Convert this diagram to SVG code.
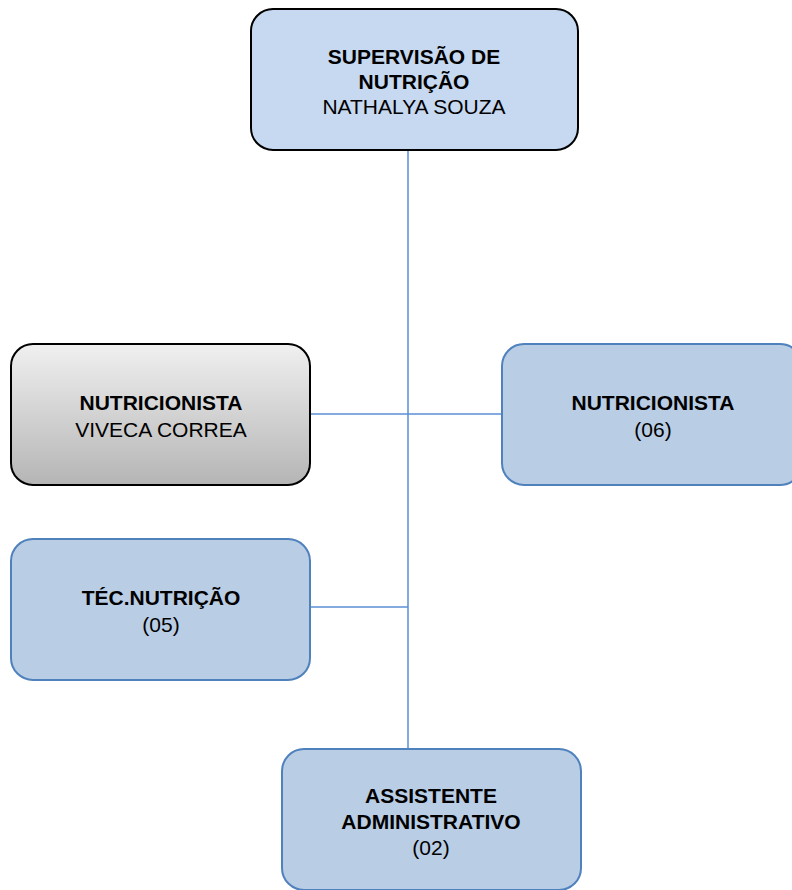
<svg xmlns="http://www.w3.org/2000/svg" width="792" height="890" viewBox="0 0 792 890">
<defs>
<linearGradient id="gray" x1="0" y1="0" x2="0" y2="1">
<stop offset="0" stop-color="#f0f0f0"/>
<stop offset="1" stop-color="#b5b5b5"/>
</linearGradient>
<style>
.blue{fill:#b9cde5;stroke:#4f81bd;stroke-width:2}
.top{fill:#c6d9f1;stroke:#000;stroke-width:2}
.grey{fill:url(#gray);stroke:#000;stroke-width:2}
.conn{stroke:#5b8fd6;stroke-width:1.5;fill:none}
text{font-family:"Liberation Sans",Arial,sans-serif;font-size:21px;text-anchor:middle;fill:#000}
.b{font-weight:bold}
</style>
</defs>
<g id="connectors">
<line class="conn" x1="408" y1="150" x2="408" y2="749"/>
<line class="conn" x1="310" y1="414" x2="502" y2="414"/>
<line class="conn" x1="310" y1="607" x2="408" y2="607"/>
</g>
<g id="supervisao">
<rect class="top" x="251" y="9" width="327" height="141" rx="22"/>
<text class="b" x="414" y="64">SUPERVISÃO DE</text>
<text class="b" x="414" y="89">NUTRIÇÃO</text>
<text x="414" y="114">NATHALYA SOUZA</text>
</g>
<g id="nutricionista-viveca">
<rect class="grey" x="11" y="344" width="299" height="141" rx="22"/>
<text class="b" x="161" y="410">NUTRICIONISTA</text>
<text x="161" y="437">VIVECA CORREA</text>
</g>
<g id="nutricionista-06">
<rect class="blue" x="502" y="344" width="300" height="141" rx="22"/>
<text class="b" x="653" y="410">NUTRICIONISTA</text>
<text x="653" y="437">(06)</text>
</g>
<g id="tec-nutricao">
<rect class="blue" x="11" y="539" width="299" height="141" rx="22"/>
<text class="b" x="161" y="605">TÉC.NUTRIÇÃO</text>
<text x="161" y="632">(05)</text>
</g>
<g id="assistente">
<rect class="blue" x="282" y="749" width="299" height="141" rx="22"/>
<text class="b" x="431" y="803">ASSISTENTE</text>
<text class="b" x="431" y="829">ADMINISTRATIVO</text>
<text x="431" y="855">(02)</text>
</g>
</svg>
